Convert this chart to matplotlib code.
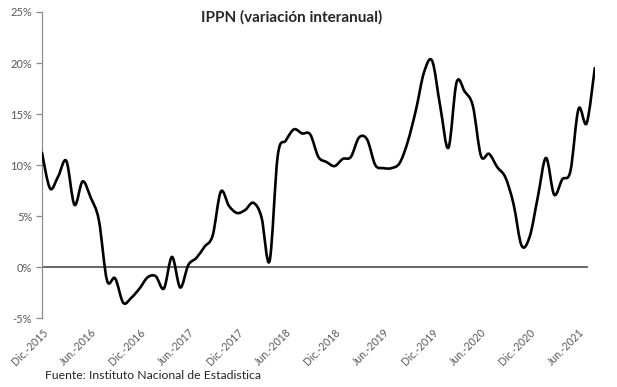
# IPPN (variacion interanual) - smoothed line chart, Excel style
import matplotlib
matplotlib.use("Agg")
import matplotlib.pyplot as plt
import numpy as np
from matplotlib.path import Path
from matplotlib.patches import PathPatch

# Data: monthly year-on-year change (%), Dic-2015 .. Ago-2021
start_year = 2015
values = [11.2, 7.7, 8.9, 10.4, 6.1, 8.4, 6.8, 4.6, -1.3, -1.1,
          -3.5, -3.0, -2.1, -1.0, -0.9, -2.1, 1.0, -2.0, 0.2, 0.9,
          2.0, 3.1, 7.4, 6.0, 5.3, 5.6, 6.3, 4.9, 0.6, 10.9,
          12.4, 13.5, 13.1, 13.0, 10.8, 10.3, 9.9, 10.6, 10.8, 12.7,
          12.5, 10.0, 9.7, 9.7, 10.2, 12.3, 15.4, 19.1, 20.2, 15.7,
          11.7, 18.1, 17.2, 15.8, 10.9, 11.1, 9.8, 8.8, 6.2, 2.1,
          3.0, 6.9, 10.7, 7.1, 8.6, 9.4, 15.5, 14.1, 19.5]
yticks = [-5, 0, 5, 10, 15, 20, 25]
tick_every = 6
title = "IPPN (variación interanual)"
source = "Fuente: Instituto Nacional de Estadistica"

n = len(values)
x = np.arange(n)
y = np.array(values)

# tick labels every 6 months, alternating Dic / Jun
tick_pos = np.arange(0, n, tick_every)
tick_lab = []
for k in tick_pos:
    year = start_year + (k + 11) // 12
    month = "Dic.-" if k % 12 == 0 else "Jun.-"
    tick_lab.append(month + str(year))

# smooth curve through the points (Catmull-Rom as cubic Bezier, like Excel)
px = np.concatenate([[x[0]], x, [x[-1]]])
py = np.concatenate([[y[0]], y, [y[-1]]])
verts = [(x[0], y[0])]
codes = [Path.MOVETO]
for i in range(1, n):
    p0 = np.array([px[i - 1], py[i - 1]])
    p1 = np.array([px[i], py[i]])
    p2 = np.array([px[i + 1], py[i + 1]])
    p3 = np.array([px[i + 2], py[i + 2]])
    c1 = p1 + (p2 - p0) / 6.0
    c2 = p2 - (p3 - p1) / 6.0
    verts += [tuple(c1), tuple(c2), tuple(p2)]
    codes += [Path.CURVE4] * 3

plt.rcParams['font.family'] = ['Lato', 'DejaVu Sans']

fig = plt.figure(figsize=(6.17, 3.87), dpi=100)
ax = fig.add_axes([0.068, 0.178, 0.896, 0.791])

ax.axhline(0, xmin=0, xmax=(n - 2) / (n - 1), color='#595959', lw=1.3, zorder=2)
ax.add_patch(PathPatch(Path(verts, codes), facecolor='none', edgecolor='black',
                       lw=1.9, capstyle='round', joinstyle='round', zorder=3))

ax.set_xlim(0, n - 1)
ax.set_ylim(-5, 25)
ax.set_yticks(yticks)
ax.set_yticklabels([f"{v}%" for v in yticks])
ax.set_xticks(tick_pos)
ax.set_xticklabels(tick_lab, rotation=45, ha='right', va='top',
                   rotation_mode='anchor')

for s in ['top', 'right', 'bottom']:
    ax.spines[s].set_visible(False)
ax.spines['left'].set_color('#8c8c8c')
ax.spines['left'].set_linewidth(0.9)
ax.tick_params(axis='y', length=4, width=0.9, color='#8c8c8c',
               labelsize=8, labelcolor='#595959', pad=3)
ax.tick_params(axis='x', length=0, labelsize=7.6, labelcolor='#595959', pad=6)

fig.text(0.473, 0.955, title, ha='center', va='center', fontsize=11,
         fontweight='bold', color='#262626')
fig.text(0.073, 0.031, source, ha='left', va='center', fontsize=8.8,
         color='#262626')

fig.savefig("out.png", dpi=100)
